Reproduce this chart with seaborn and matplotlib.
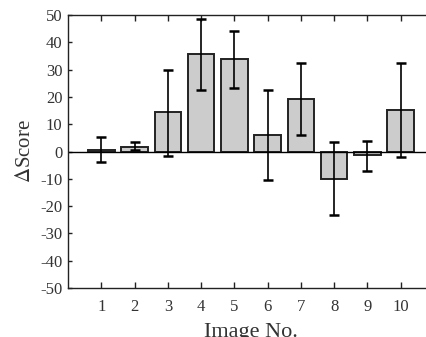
import numpy as np
import pandas as pd
import matplotlib
matplotlib.use('Agg')
import matplotlib.pyplot as plt
import seaborn as sns

# data
image_no = [1, 2, 3, 4, 5, 6, 7, 8, 9, 10]
delta_score = [0.5, 1.7, 14.4, 35.8, 33.8, 6.1, 19.4, -10.0, -1.3, 15.3]
err_upper = [5.2, 3.4, 30.0, 48.4, 44.3, 22.7, 32.6, 3.3, 4.0, 32.6]
err_lower = [-4.0, 0.4, -1.5, 22.7, 23.1, -10.6, 5.9, -23.3, -7.0, -2.1]
y_ticks = [-50, -40, -30, -20, -10, 0, 10, 20, 30, 40, 50]

df = pd.DataFrame({'Image': image_no, 'dScore': delta_score})

sns.set_style('white')
plt.rcParams['font.family'] = ['Liberation Serif', 'DejaVu Serif']
plt.rcParams['mathtext.fontset'] = 'stix'

fig = plt.figure(figsize=(4.26, 3.37), dpi=100)
# axes runs past the right edge, as in the cropped reference
ax = fig.add_axes([68 / 426, 49 / 337, 366 / 426, 273 / 337])

sns.barplot(data=df, x='Image', y='dScore', order=image_no, color='#cccccc',
            edgecolor='#222222', linewidth=1.4, width=0.8, saturation=1,
            errorbar=None, native_scale=True, ax=ax)

yerr = np.array([np.array(delta_score) - np.array(err_lower),
                 np.array(err_upper) - np.array(delta_score)])
ax.errorbar(image_no, delta_score, yerr=yerr, fmt='none', ecolor='black',
            elinewidth=1.2, capsize=3.5, capthick=1.8)

ax.axhline(0, color='black', lw=1)
ax.set_xlim(0, 11)
ax.set_ylim(-50, 50)
ax.set_xticks(image_no)
ax.set_xticklabels([str(i) for i in image_no])
ax.set_yticks(y_ticks)
ax.set_yticklabels([str(t) for t in y_ticks])

for s in ax.spines.values():
    s.set_color('#222222')
    s.set_linewidth(1.0)

ax.tick_params(axis='x', direction='in', length=4, width=1, top=True,
               bottom=True, labelsize=12, pad=8, colors='#222222',
               labelcolor='#333333')
ax.tick_params(axis='y', direction='in', length=3, width=1, left=True,
               labelsize=12, pad=4, colors='#222222', labelcolor='#333333')

ax.set_xlabel('Image No.', fontsize=16, color='#333333', labelpad=6)
ax.set_ylabel('$\\Delta$Score', fontsize=15, color='#333333', labelpad=4)

fig.savefig('out.png', dpi=100)
